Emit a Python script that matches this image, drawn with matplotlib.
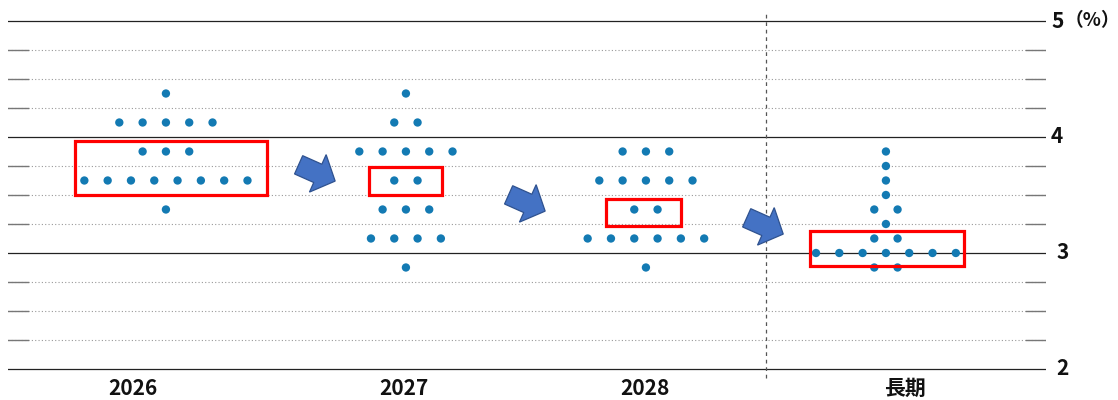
import matplotlib
matplotlib.use("Agg")
import matplotlib.pyplot as plt
import numpy as np
from matplotlib.patches import Rectangle, Polygon
from matplotlib import transforms

plt.rcParams['font.family'] = ['Noto Sans CJK JP', 'DejaVu Sans']

# ---- data ----
categories = ['2026', '2027', '2028', '長期']
rates_2026 = [4.375, 4.125, 3.875, 3.625, 3.375]
counts_2026 = [1, 5, 3, 8, 1]
rates_2027 = [4.375, 4.125, 3.875, 3.625, 3.375, 3.125, 2.875]
counts_2027 = [1, 2, 5, 2, 3, 4, 1]
rates_2028 = [3.875, 3.625, 3.375, 3.125, 2.875]
counts_2028 = [3, 5, 2, 6, 1]
rates_lr = [3.875, 3.75, 3.625, 3.5, 3.375, 3.25, 3.125, 3.0, 2.875]
counts_lr = [1, 1, 1, 1, 2, 1, 2, 7, 2]
y_ticks = [2, 3, 4, 5]
y_tick_labels = ['2', '3', '4', '5']
unit_label = '（%）'
minor_lines = [2.25, 2.5, 2.75, 3.25, 3.5, 3.75, 4.25, 4.5, 4.75]

series = [(rates_2026, counts_2026), (rates_2027, counts_2027),
          (rates_2028, counts_2028), (rates_lr, counts_lr)]

# ---- figure ----
W, H = 1118, 400
fig = plt.figure(figsize=(W / 100, H / 100), dpi=100)
ax = fig.add_axes([8 / W, 20 / H, (1046 - 8) / W, 375 / H])
xmin, xmax = -0.658, 3.667
ax.set_xlim(xmin, xmax)
ax.set_ylim(1.905, 5.138)
ax.axis('off')

dot_color = '#137AB3'
spacing = 0.0971

# grid lines
for v in minor_lines:
    ax.plot([xmin, xmax], [v, v], color='#999999', lw=0.8,
            linestyle=(0, (1, 2)), zorder=1)
    ax.plot([xmin, xmin + 20 / 240], [v, v], color='#777777', lw=1.0, zorder=1)
    ax.plot([xmax - 20 / 240, xmax], [v, v], color='#777777', lw=1.0, zorder=1)
for v in y_ticks:
    ax.plot([xmin, xmax], [v, v], color='#222222', lw=0.9, zorder=1)

# vertical dashed separator
ax.plot([2.5, 2.5], [1.922, 5.078], color='#555555', lw=0.9,
        linestyle=(0, (3, 3)), zorder=1)

# dots
for i, (rates, counts) in enumerate(series):
    xs, ys = [], []
    for r, c in zip(rates, counts):
        for j in range(c):
            xs.append(i + spacing * (j - (c - 1) / 2))
            ys.append(r)
    ax.scatter(xs, ys, s=36, color=dot_color, edgecolors='none', zorder=4)

# highlight boxes
boxes = [(-0.379, 3.5, 0.800, 0.466),
         (0.846, 3.5, 0.304, 0.241),
         (1.833, 3.233, 0.313, 0.233),
         (2.683, 2.888, 0.642, 0.302)]
for bx, by, bw, bh in boxes:
    ax.add_patch(Rectangle((bx, by), bw, bh, fill=False, edgecolor='#FF0000',
                           lw=2.3, zorder=5))

# block arrows (shape in inches, rotated, placed at data position)
def arrow_shape():
    L, sw, hw, hl = 0.40, 0.20, 0.41, 0.19
    pts = np.array([[-L / 2, -sw / 2], [L / 2 - hl, -sw / 2], [L / 2 - hl, -hw / 2],
                    [L / 2, 0], [L / 2 - hl, hw / 2], [L / 2 - hl, sw / 2],
                    [-L / 2, sw / 2]])
    a = np.deg2rad(-24)
    R = np.array([[np.cos(a), -np.sin(a)], [np.sin(a), np.cos(a)]])
    return pts @ R.T

arrow_pos = [(0.629, 3.69), (1.504, 3.431), (2.496, 3.233)]
for axp, ayp in arrow_pos:
    tr = fig.dpi_scale_trans + transforms.ScaledTranslation(axp, ayp, ax.transData)
    ax.add_patch(Polygon(arrow_shape(), closed=True, facecolor='#4472C4',
                         edgecolor='#2F528F', lw=0.9, transform=tr, zorder=6))

# category labels
label_x = [-0.1375, 0.99, 1.995, 3.08]
for lx, lab in zip(label_x, categories):
    ax.text(lx, 1.836, lab, ha='center', va='center', fontsize=15,
            fontweight='bold', clip_on=False, color='#111111')

# y labels on right (pixel offsets from the right end of the lines)
label_off = [10.5, 10.5, 5.0, 5.5]
for v, lab, off in zip(y_ticks, y_tick_labels, label_off):
    ax.annotate(lab, xy=(1.0, v), xycoords=('axes fraction', 'data'),
                xytext=(off * 0.72, 0), textcoords='offset points',
                ha='left', va='center', fontsize=15, fontweight='bold',
                color='#111111', annotation_clip=False)
# unit label next to the top tick label
ax.annotate(unit_label, xy=(1.0, y_ticks[-1]), xycoords=('axes fraction', 'data'),
            xytext=(18.5 * 0.72, 0), textcoords='offset points',
            ha='left', va='center', fontsize=13.5, fontweight='bold',
            color='#111111', annotation_clip=False)

fig.savefig('out.png', dpi=100)
